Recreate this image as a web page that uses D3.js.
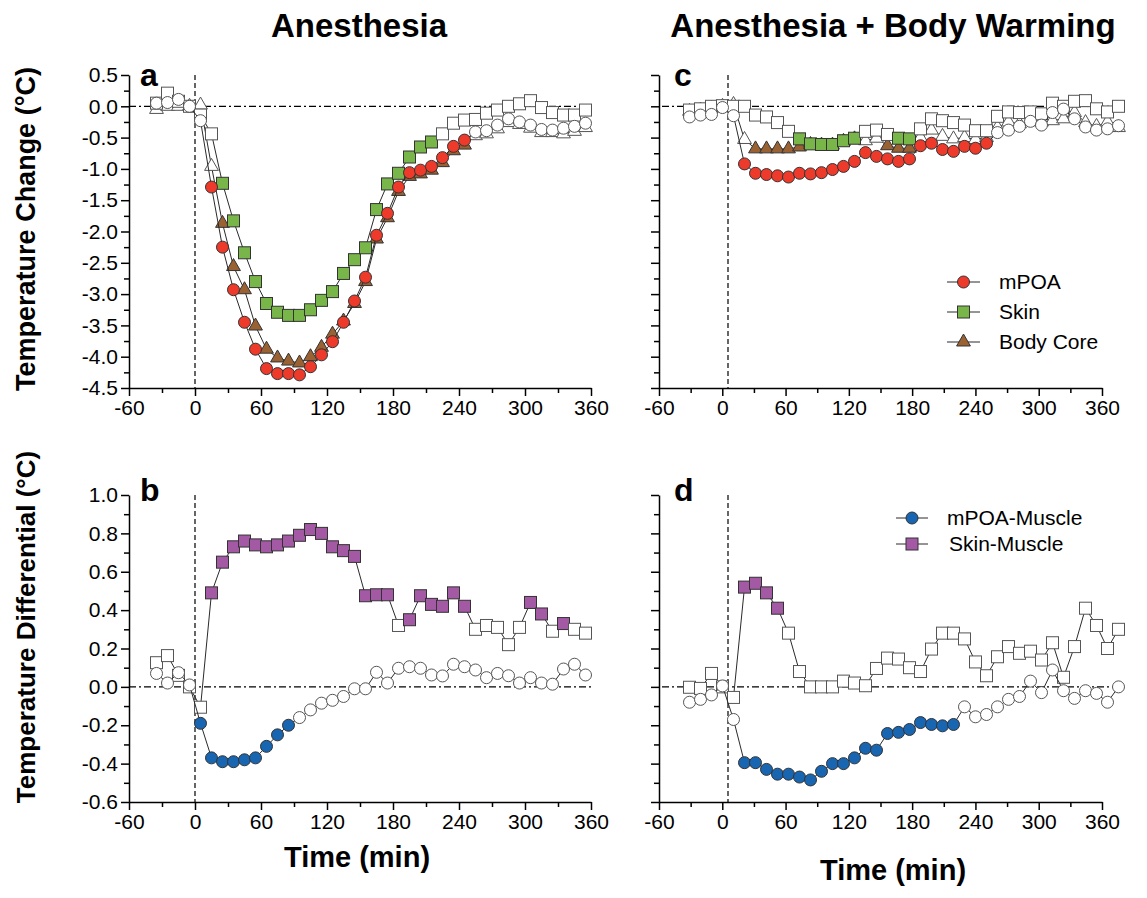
<!DOCTYPE html>
<html>
<head>
<meta charset="utf-8">
<script src="https://cdn.jsdelivr.net/npm/d3@7"></script>
<style>
  body { margin: 0; background: #fff; }
  svg { display: block; }
</style>
</head>
<body>
<svg id="chart" width="1147" height="898"></svg>
<script>
// Sampling times (min), 10-min bins relative to anesthesia onset
const times = [-35,-25,-15,-5,5,15,25,35,45,55,65,75,85,95,105,115,125,135,145,155,165,175,185,195,205,215,225,235,245,255,265,275,285,295,305,315,325,335,345,355];

// Axis tick values
const xMajorTicks = [-60,0,60,120,180,240,300,360];
const xMinorTicks = [-30,30,90,150,210,270,330];
const tempMajorTicks = [0.5,0.0,-0.5,-1.0,-1.5,-2.0,-2.5,-3.0,-3.5,-4.0,-4.5];
const tempMinorTicks = [0.25,-0.25,-0.75,-1.25,-1.75,-2.25,-2.75,-3.25,-3.75,-4.25];
const diffMajorTicks = [1.0,0.8,0.6,0.4,0.2,0.0,-0.2,-0.4,-0.6];
const diffMinorTicks = [0.9,0.7,0.5,0.3,0.1,-0.1,-0.3,-0.5];

// Panel a: anesthesia, temperature change (°C)
const aMPOA = [0.05,0.06,0.11,0.0,-0.23,-1.29,-2.25,-2.93,-3.45,-3.88,-4.19,-4.27,-4.27,-4.29,-4.16,-3.97,-3.76,-3.45,-3.11,-2.73,-2.06,-1.71,-1.29,-1.06,-1.02,-0.96,-0.82,-0.64,-0.54,-0.41,-0.39,-0.30,-0.20,-0.25,-0.30,-0.37,-0.38,-0.35,-0.32,-0.27];
const aSkin = [0.05,0.21,0.08,0.0,-0.14,-0.44,-1.23,-1.83,-2.34,-2.80,-3.15,-3.29,-3.34,-3.34,-3.25,-3.10,-2.96,-2.67,-2.45,-2.26,-1.65,-1.24,-1.07,-0.81,-0.65,-0.57,-0.44,-0.27,-0.22,-0.21,-0.11,-0.06,0.0,0.04,0.09,-0.02,-0.10,-0.14,-0.14,-0.06];
const aCore = [-0.05,0.0,0.0,0.0,0.02,-0.96,-1.87,-2.56,-2.93,-3.51,-3.88,-4.02,-4.07,-4.10,-4.00,-3.85,-3.64,-3.43,-3.15,-2.80,-2.12,-1.78,-1.36,-1.12,-1.08,-1.02,-0.90,-0.71,-0.62,-0.47,-0.44,-0.36,-0.26,-0.29,-0.35,-0.42,-0.42,-0.44,-0.40,-0.34];
const aMPOASig = [[15,245]];
const aSkinSig = [[25,215]];
const aCoreSig = [[25,245]];

// Panel c: anesthesia + body warming, temperature change (°C)
const cMPOA = [-0.17,-0.14,-0.13,-0.02,-0.15,-0.92,-1.07,-1.09,-1.11,-1.13,-1.07,-1.08,-1.06,-1.01,-0.96,-0.88,-0.74,-0.80,-0.84,-0.88,-0.84,-0.63,-0.59,-0.69,-0.72,-0.64,-0.67,-0.59,-0.42,-0.38,-0.32,-0.24,-0.30,-0.10,-0.045,-0.20,-0.33,-0.38,-0.36,-0.31];
const cSkin = [-0.06,-0.04,0.0,0.01,0.0,0.0,-0.14,-0.17,-0.26,-0.40,-0.52,-0.60,-0.61,-0.61,-0.55,-0.51,-0.40,-0.38,-0.45,-0.51,-0.52,-0.36,-0.20,-0.23,-0.26,-0.30,-0.39,-0.39,-0.16,-0.09,-0.10,-0.09,-0.12,0.05,0.0,0.08,0.09,-0.04,-0.09,0.0];
const cCore = [-0.08,-0.06,-0.03,0.0,0.03,-0.53,-0.68,-0.68,-0.68,-0.68,-0.65,-0.61,-0.62,-0.62,-0.56,-0.52,-0.55,-0.51,-0.63,-0.67,-0.67,-0.50,-0.38,-0.48,-0.52,-0.50,-0.53,-0.50,-0.34,-0.25,-0.28,-0.23,-0.25,-0.23,-0.20,-0.10,-0.26,-0.32,-0.25,-0.34];
const cMPOASig = [[15,235]];
const cSkinSig = [[65,115],[155,165]];
const cCoreSig = [[25,115],[145,165]];

// Panel b: anesthesia, temperature differential (°C)
const bMPOAMuscle = [0.07,0.02,0.074,0.01,-0.19,-0.37,-0.39,-0.39,-0.38,-0.37,-0.31,-0.25,-0.20,-0.16,-0.12,-0.085,-0.07,-0.05,-0.01,-0.01,0.076,0.02,0.097,0.105,0.097,0.062,0.057,0.118,0.105,0.088,0.048,0.07,0.058,0.02,0.048,0.02,0.014,0.093,0.118,0.062];
const bSkinMuscle = [0.126,0.163,0.06,0.0,-0.106,0.49,0.65,0.73,0.76,0.74,0.73,0.74,0.76,0.79,0.82,0.80,0.73,0.71,0.68,0.475,0.48,0.48,0.32,0.35,0.475,0.43,0.42,0.49,0.42,0.30,0.32,0.31,0.22,0.31,0.44,0.38,0.29,0.33,0.30,0.28];
const bMPOAMuscleSig = [[5,85]];
const bSkinMuscleSig = [[15,175],[195,245],[305,315],[335,335]];

// Panel d: anesthesia + body warming, temperature differential (°C)
const dMPOAMuscle = [-0.08,-0.065,-0.042,0.005,-0.17,-0.395,-0.395,-0.43,-0.455,-0.455,-0.47,-0.485,-0.44,-0.40,-0.40,-0.37,-0.32,-0.33,-0.243,-0.237,-0.222,-0.186,-0.196,-0.203,-0.196,-0.104,-0.156,-0.144,-0.104,-0.065,-0.05,0.03,-0.03,0.088,-0.02,-0.06,-0.02,-0.034,-0.08,0.0];
const dSkinMuscle = [-0.002,-0.008,0.07,0.0,-0.055,0.52,0.54,0.49,0.41,0.28,0.08,0.0,0.0,0.0,0.03,0.02,0.006,0.096,0.15,0.145,0.10,0.08,0.197,0.28,0.28,0.25,0.13,0.058,0.157,0.21,0.175,0.186,0.14,0.23,0.05,0.21,0.41,0.32,0.20,0.30];
const dMPOAMuscleSig = [[15,205]];
const dSkinMuscleSig = [[15,45]];

const COLORS = {
  mPOA: '#ee3a2a',
  skin: '#79b64a',
  core: '#9a6232',
  mPOAMuscle: '#1865b1',
  skinMuscle: '#a459a4'
};
const FONT = '"Liberation Sans", Arial, Helvetica, sans-serif';
const svg = d3.select('#chart');

// ---- scales ----
const yTemp = d3.scaleLinear().domain([-4.5, 0.5]).range([388, 75]);
const yDiff = d3.scaleLinear().domain([-0.6, 1.0]).range([802, 495]);
const xLeft = d3.scaleLinear().domain([-60, 360]).range([129, 591]);
// right column: ticks on the printed axis, data on its own time scale
const xRightAxis = d3.scaleLinear().domain([-60, 360]).range([659, 1102]);
const xRight = d3.scaleLinear().domain([-60, 360]).range([662, 1124]);

const inRanges = (t, ranges) => ranges.some(([a, b]) => t >= a && t <= b);

function drawAxes(xAxisScale, yScale, yMajor, yMinor, showYLabels) {
  const g = svg.append('g');
  const x0 = xAxisScale.range()[0];
  const yBottom = yScale.range()[0];

  const yAx = d3.axisLeft(yScale).tickValues(yMajor).tickSize(8).tickSizeOuter(0).tickPadding(3)
    .tickFormat(showYLabels ? (d => d.toFixed(1)) : '');
  g.append('g').attr('transform', `translate(${x0},0)`).call(yAx);
  g.append('g').attr('transform', `translate(${x0},0)`)
    .call(d3.axisLeft(yScale).tickValues(yMinor).tickSize(5).tickFormat(''))
    .select('.domain').remove();

  const xAx = d3.axisBottom(xAxisScale).tickValues(xMajorTicks).tickSize(8).tickSizeOuter(0).tickPadding(4)
    .tickFormat(d => String(d));
  g.append('g').attr('transform', `translate(0,${yBottom})`).call(xAx);
  g.append('g').attr('transform', `translate(0,${yBottom})`)
    .call(d3.axisBottom(xAxisScale).tickValues(xMinorTicks).tickSize(5).tickFormat(''))
    .select('.domain').remove();

  g.selectAll('.domain, .tick line').attr('stroke', '#000').attr('stroke-width', 1.5);
  g.selectAll('.tick text').attr('fill', '#000').style('font-family', FONT).style('font-size', '21px');
}

function drawRefLines(xScale, yScale) {
  const g = svg.append('g').attr('stroke', '#000').attr('stroke-width', 1.2).attr('fill', 'none');
  g.append('line')
    .attr('x1', xScale(-60)).attr('x2', xScale(360))
    .attr('y1', yScale(0)).attr('y2', yScale(0))
    .attr('stroke-dasharray', '7,3,2,3');
  g.append('line')
    .attr('x1', xScale(0)).attr('x2', xScale(0))
    .attr('y1', yScale.range()[1]).attr('y2', yScale.range()[0])
    .attr('stroke-dasharray', '5,3');
}

function markerShape(sel, shape, size) {
  if (shape === 'circle') {
    sel.append('circle').attr('r', size);
  } else if (shape === 'square') {
    sel.append('rect').attr('x', -size).attr('y', -size).attr('width', size * 2).attr('height', size * 2);
  } else {
    sel.append('path').attr('d', d3.symbol(d3.symbolTriangle, size * size * 2.3)());
  }
}

function drawSeries(xScale, yScale, values, sig, shape, color) {
  const pts = times.map((t, i) => ({ t, v: values[i], on: inRanges(t, sig) }));
  const g = svg.append('g');
  g.append('path')
    .datum(pts)
    .attr('fill', 'none')
    .attr('stroke', '#2a2a2a')
    .attr('stroke-width', 1)
    .attr('d', d3.line().x(d => xScale(d.t)).y(d => yScale(d.v)));
  const m = g.selectAll('g.pt').data(pts).join('g')
    .attr('class', 'pt')
    .attr('transform', d => `translate(${xScale(d.t)},${yScale(d.v)})`);
  markerShape(m, shape, 6);
  m.selectAll('circle, rect, path')
    .attr('fill', function () { return d3.select(this.parentNode).datum().on ? color : '#fff'; })
    .attr('stroke', function () { return d3.select(this.parentNode).datum().on ? '#333' : '#555'; })
    .attr('stroke-width', 1);
}

function legendEntry(x1, x2, y, shape, color, label, textX) {
  const g = svg.append('g');
  g.append('line').attr('x1', x1).attr('x2', x2).attr('y1', y).attr('y2', y)
    .attr('stroke', '#2a2a2a').attr('stroke-width', 1);
  const m = g.append('g').attr('transform', `translate(${(x1 + x2) / 2},${y})`);
  markerShape(m, shape, 6);
  m.selectAll('*').attr('fill', color).attr('stroke', '#333').attr('stroke-width', 1);
  g.append('text').attr('x', textX).attr('y', y).attr('dy', '0.35em')
    .style('font-family', FONT).style('font-size', '21px').attr('fill', '#000')
    .text(label);
}

function label(x, y, text, size, opts = {}) {
  const t = svg.append('text')
    .attr('x', x).attr('y', y)
    .attr('text-anchor', opts.anchor || 'middle')
    .style('font-family', FONT).style('font-size', size + 'px')
    .style('font-weight', opts.weight || 'bold')
    .attr('fill', '#000')
    .text(text);
  if (opts.rotate) t.attr('transform', `rotate(${opts.rotate},${x},${y})`);
  return t;
}

// ---- panel a ----
drawRefLines(xLeft, yTemp);
drawAxes(xLeft, yTemp, tempMajorTicks, tempMinorTicks, true);
drawSeries(xLeft, yTemp, aCore, aCoreSig, 'triangle', COLORS.core);
drawSeries(xLeft, yTemp, aSkin, aSkinSig, 'square', COLORS.skin);
drawSeries(xLeft, yTemp, aMPOA, aMPOASig, 'circle', COLORS.mPOA);

// ---- panel c ----
drawRefLines(xRight, yTemp);
drawAxes(xRightAxis, yTemp, tempMajorTicks, tempMinorTicks, false);
drawSeries(xRight, yTemp, cCore, cCoreSig, 'triangle', COLORS.core);
drawSeries(xRight, yTemp, cSkin, cSkinSig, 'square', COLORS.skin);
drawSeries(xRight, yTemp, cMPOA, cMPOASig, 'circle', COLORS.mPOA);
legendEntry(947, 980, 282, 'circle', COLORS.mPOA, 'mPOA', 999);
legendEntry(947, 980, 312, 'square', COLORS.skin, 'Skin', 999);
legendEntry(947, 980, 342, 'triangle', COLORS.core, 'Body Core', 999);

// ---- panel b ----
drawRefLines(xLeft, yDiff);
drawAxes(xLeft, yDiff, diffMajorTicks, diffMinorTicks, true);
drawSeries(xLeft, yDiff, bSkinMuscle, bSkinMuscleSig, 'square', COLORS.skinMuscle);
drawSeries(xLeft, yDiff, bMPOAMuscle, bMPOAMuscleSig, 'circle', COLORS.mPOAMuscle);

// ---- panel d ----
drawRefLines(xRight, yDiff);
drawAxes(xRightAxis, yDiff, diffMajorTicks, diffMinorTicks, false);
drawSeries(xRight, yDiff, dSkinMuscle, dSkinMuscleSig, 'square', COLORS.skinMuscle);
drawSeries(xRight, yDiff, dMPOAMuscle, dMPOAMuscleSig, 'circle', COLORS.mPOAMuscle);
legendEntry(896, 928, 518, 'circle', COLORS.mPOAMuscle, 'mPOA-Muscle', 947);
legendEntry(896, 928, 544, 'square', COLORS.skinMuscle, 'Skin-Muscle', 949);

// ---- titles and labels ----
label(359, 37, 'Anesthesia', 33);
label(893, 37, 'Anesthesia + Body Warming', 33);
label(35, 229, 'Temperature Change (°C)', 27, { rotate: -90 });
label(35, 627, 'Temperature Differential (°C)', 26, { rotate: -90 });
label(357, 867, 'Time (min)', 29);
label(893, 880, 'Time (min)', 29);
label(140, 86, 'a', 32, { anchor: 'start' });
label(140, 501, 'b', 32, { anchor: 'start' });
label(674, 86, 'c', 32, { anchor: 'start' });
label(674, 501, 'd', 32, { anchor: 'start' });
</script>
</body>
</html>
